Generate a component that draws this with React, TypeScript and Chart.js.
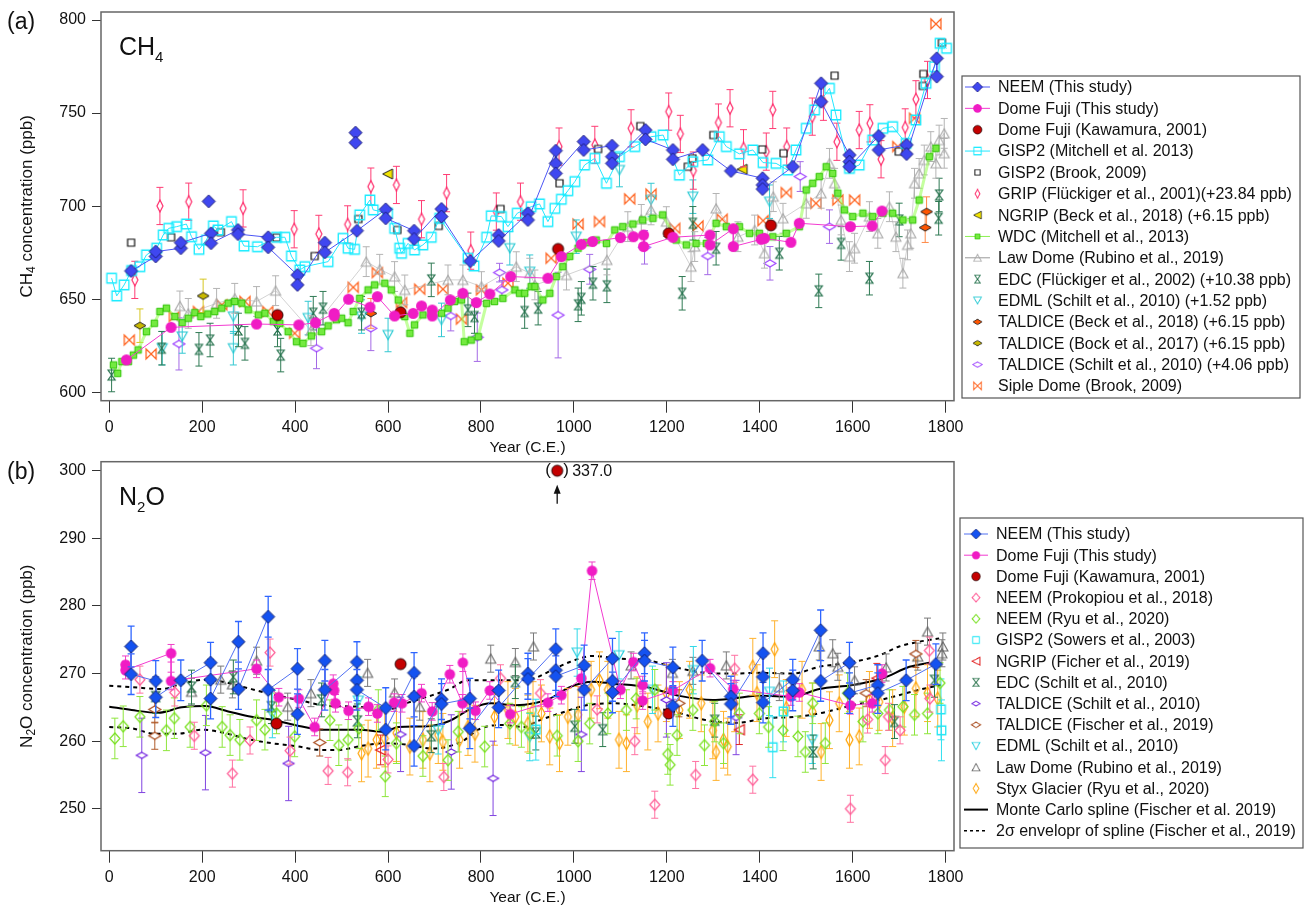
import React, { useEffect, useRef } from 'react';
import { Chart, registerables } from 'chart.js';

Chart.register(...registerables);

const FONT = "'Liberation Sans', Arial, Helvetica, sans-serif";

// ---------------- Axis ranges / ticks ----------------
const yearMin = -17.8;
const yearMax = 1818;
const yearTicks = [0, 200, 400, 600, 800, 1000, 1200, 1400, 1600, 1800];
const ch4Min = 595.5;
const ch4Max = 804.3;
const ch4Ticks = [600, 650, 700, 750, 800];
const n2oMin = 243.8;
const n2oMax = 301.33;
const n2oTicks = [250, 260, 270, 280, 290, 300];

// ---------------- Panel (a) CH4 data [year, ppb] or [year, ppb, err] ----------------
const neemCh4 = [[47,665.2],[100,673],[100,675.6],[154,677.4],[154,680.4],[219,685.4],[219,680.1],[277,687.2],[277,685],[342,683.3],[342,677.9],[405,663],[405,657.7],[464,680.4],[464,675.2],[533,686.8],[595,698.3],[595,693.5],[656,686.8],[656,682.4],[715,698.5],[715,694.4],[777,670.5],[838,684.5],[838,681.3],[901,696.2],[901,692.6],[961,729.8],[961,723],[961,717.6],[1021,734.7],[1021,730.2],[1082,732.5],[1082,726.6],[1082,723],[1154,740.9],[1154,735.9],[1213,730.2],[1213,725.2],[1277,730.2],[1338,718.9],[1406,715],[1406,711.4],[1406,709.2],[1471,721.2],[1532,766],[1532,756.1],[1593,727.5],[1593,723.9],[1593,721.2],[1656,737.7],[1656,730.2],[1716,732.9],[1716,728],[1781,779.4],[1781,769.6]];
const neemCh4Isolated = [[214,702.6],[530,739.5],[530,734.1]];
const domeFujiCh4 = [[37,617.4],[133,634.9],[317,636.7],[408,636.2],[444,637.4],[484,642.4],[484,641],[515,650],[561,645.7],[577,651.4],[614,641],[654,642.4],[672,646.4],[695,644.2],[695,641],[734,649.6],[761,653.2],[790,648.2],[819,652.8],[864,662.2],[944,661.3],[973,672.9],[1016,679.5],[1040,681],[1100,683.1],[1128,683.6],[1150,684.5],[1150,678.3],[1213,683.3],[1293,684.5],[1293,679.2],[1343,687.9],[1343,678.3],[1403,682.2],[1410,682.7],[1467,680.6],[1485,690.8],[1595,689],[1642,689.4],[1663,697.4]];
const kawamuraCh4 = [[362,641.5],[627,643],[966,677],[1204,685.4],[1424,689.7]];
const gisp2MitchellCh4 = [[5,661.3],[16,651.8],[32,657.7],[48,665.4],[66,667.5],[80,673.8],[102,677.4],[116,684.5],[128,688.1],[145,689],[166,690.4],[177,683.6],[193,676.8],[209,681.8],[224,689.4],[234,687.2],[263,691.7],[290,678.6],[319,678.2],[360,683.3],[378,683.3],[392,673.2],[410,665.7],[421,667.5],[471,670.2],[503,682.7],[514,677.4],[528,676.8],[539,695.3],[561,703.3],[568,698],[599,696.2],[614,688.1],[625,677.4],[629,674.7],[643,680],[657,676.5],[675,679.2],[693,683.3],[711,693.5],[772,672],[785,667.9],[812,683.3],[822,694.8],[844,694.4],[858,689],[878,696.2],[908,699.7],[926,701.2],[944,691.7],[959,698.8],[973,703.7],[987,708.3],[1002,713.2],[1023,722.1],[1045,725.7],[1070,712.3],[1098,726.6],[1131,732],[1166,737.3],[1192,738.2],[1227,716.7],[1256,723.9],[1288,724.8],[1313,737.3],[1328,732],[1356,728.1],[1385,730.2],[1407,723.4],[1435,723],[1460,719.4],[1478,730.2],[1500,741.8],[1518,751.7],[1550,763.3],[1564,749],[1593,720.3],[1614,722.1],[1643,735.5],[1665,741.8],[1686,742.7],[1715,733.7],[1736,746.3],[1758,766],[1776,774.9],[1788,787.5],[1802,784.8]];
const gisp2BrookCh4 = [[47,680.4],[133,683.3],[240,686],[360,683.1],[442,673.2],[536,693.1],[620,687.2],[709,689.4],[842,698.5],[969,712.3],[1052,730.7],[1143,743],[1245,721.2],[1255,725.7],[1300,738.2],[1405,730.5],[1451,728.4],[1561,770.1],[1699,729.3],[1751,764.6],[1752,771],[1792,787.8]];
const gripCh4 = [[55,660.4],[109,700.1],[171,702.4],[288,698.8],[398,687.6],[451,685.1],[513,690.2],[563,710.5],[618,711.4],[672,693],[726,707],[778,676.1],[833,697.1],[885,702.4],[968,732],[1045,732.9],[1123,741.8],[1204,750.8],[1229,738.8],[1257,719.1],[1311,744.9],[1336,752.6],[1365,731.1],[1414,729.3],[1428,751.7],[1458,732],[1513,748.1],[1537,756.1],[1566,734.6],[1614,740.9],[1637,744.5],[1661,725.2],[1713,742.3],[1736,757.4],[1761,767.8]];
const gripErr = 10;
const ngripCh4 = [[599,717.3],[1362,719.8]];
const wdcCh4 = [[9,614.7],[18,610.2],[27,616.5],[41,616.5],[52,620],[62,622.8],[80,632.6],[97,637.1],[109,643.4],[123,645.2],[141,640.7],[157,637.4],[170,639.8],[184,642.8],[197,640.7],[212,642.1],[227,643.4],[242,645.2],[256,647.9],[270,648.8],[285,647.9],[299,644.3],[321,641.6],[335,642.5],[353,638],[367,637.1],[385,632.6],[403,627.2],[417,626.3],[435,630.3],[457,632.6],[471,635.7],[489,639],[500,639.8],[514,637.4],[525,643.4],[539,650.5],[557,655],[571,657.7],[593,658.6],[607,655],[622,649.6],[636,640.7],[647,631.7],[657,636.2],[675,641.6],[693,642.5],[715,642.5],[729,645.2],[743,648.8],[758,649.6],[764,627.2],[779,628.1],[794,629.9],[812,647.8],[829,648.8],[847,650.5],[873,655],[883,653.2],[894,653.2],[908,656.8],[916,656.8],[933,649.6],[948,653.2],[962,662.2],[976,667.5],[991,673],[1009,677.4],[1027,680.4],[1048,681.8],[1070,680],[1088,687.2],[1105,689],[1127,690.4],[1148,692.6],[1170,693.5],[1191,695.3],[1220,681.8],[1242,679.2],[1263,680],[1285,680],[1306,690.8],[1328,689],[1356,689],[1378,685.4],[1399,685.4],[1428,683.6],[1457,685.4],[1485,689],[1500,708.7],[1514,712.3],[1528,715.9],[1543,721.2],[1557,717.6],[1568,707],[1582,698],[1600,694.4],[1622,696.2],[1643,694.4],[1665,696.2],[1686,696.2],[1708,692.6],[1729,692.6],[1743,703.3],[1765,726.6],[1779,731.1]];
const lawDomeCh4 = [[152,646.4],[170,642.4],[231,647.8],[270,650.5],[317,648.8],[358,654.6],[434,633.1],[553,670.2],[582,666.1],[614,662.2],[636,655],[729,660.4],[761,660.4],[801,656.8],[876,667.5],[905,664],[916,657.7],[984,663],[1071,671.1],[1116,689],[1145,692.9],[1166,698],[1199,691.7],[1252,667.5],[1260,678.3],[1306,698.8],[1353,683.6],[1389,687.2],[1410,674.7],[1429,705.1],[1450,693.5],[1500,701.5],[1532,706.9],[1550,723],[1561,712.3],[1575,692.6],[1593,672.9],[1604,677.4],[1636,694.4],[1654,685.4],[1679,699.7],[1693,683.6],[1708,664],[1718,679.2],[1725,685.4],[1733,712.3],[1743,717.6],[1754,724.8],[1768,732],[1779,723],[1786,735.5],[1797,739.1],[1797,728.4]];
const lawDomeCh4Err = 8;
const edcCh4 = [[5,609.3],[113,623.7],[193,623.1],[217,628.1],[278,633.5],[292,626.3],[362,633.5],[369,620],[439,642.5],[460,645.2],[543,642.5],[693,660.4],[772,644.3],[786,640.7],[894,643.4],[923,645.2],[1009,647],[1016,650.5],[1041,658.6],[1071,657.2],[1233,653.2],[1256,690.8],[1306,677.4],[1442,674.7],[1527,654.5],[1575,680],[1636,661.3],[1700,692.6],[1785,693.5],[1786,706]];
const edcCh4Err = 9;
const edmlCh4 = [[114,623.7],[157,630],[267,623.7],[267,640.7],[428,639.9],[543,640.7],[600,630.8],[715,638.9],[862,677.4],[905,664.8],[1005,683.6],[1098,719.4],[1166,703.3],[1256,705.1],[1421,702.4]];
const edmlCh4Err = 9;
const taldiceBeckCh4 = [[563,642.4],[1756,688.5],[1759,697]];
const taldiceBeckErr = 8;
const taldiceBockCh4 = [[66,635.8],[202,651.8]];
const taldiceBockErr = 9;
const taldiceSchiltCh4 = [[150,626,14],[446,623.7,11],[563,634.4,12],[735,641,8],[792,629.6,13],[840,664.3,5],[845,655,5],[966,641.5,23],[1034,666.1,8],[1152,677.9,9],[1288,673.2,10],[1422,669.3,9],[1487,715.9,8],[1550,689,9]];
const sipleCh4 = [[43,628.1],[90,620.6],[140,640.7],[192,643.4],[242,647],[292,648.8],[341,643.4],[399,631.7],[525,656.4],[577,664.3],[629,648.2],[668,655.4],[718,655.4],[758,639.3],[801,655],[858,658.6],[951,672],[1009,690.4],[1055,691.7],[1120,703.9],[1166,706.5],[1217,688.1],[1267,689.4],[1319,693],[1407,692.2],[1457,707.3],[1521,701.5],[1568,703.3],[1604,703.3],[1697,732],[1733,747.2],[1779,797.9]];

// ---------------- Panel (b) N2O data ----------------
const neemN2o = [[47,274],[47,269.9],[100,268.9],[100,266.5],[154,269],[218,271.6],[218,269.1],[218,266.3],[278,274.7],[278,267.7],[342,278.4],[342,267.6],[405,270.7],[405,264],[464,271.9],[464,267.6],[533,271.7],[533,269],[533,267.6],[595,264.9],[595,261.7],[656,270.1],[656,266.6],[656,259.3],[715,266.2],[715,265.5],[776,266.3],[776,261.9],[838,267.5],[838,265],[901,270],[901,269.2],[961,273.6],[961,270.5],[961,269.6],[1022,271.2],[1022,267.6],[1083,272.2],[1083,268.9],[1083,267.2],[1152,273],[1152,271.9],[1213,270.9],[1213,265.2],[1276,271.9],[1338,266.6],[1338,265.5],[1407,273],[1407,269.5],[1407,265.7],[1471,269.1],[1471,267.5],[1531,276.4],[1531,268.9],[1593,271.6],[1593,267.1],[1654,268.3],[1654,267.1],[1715,269],[1779,271.4]];
const neemN2oErr = 3;
const domeFujiN2o = [[35,271.3],[35,270.5],[133,273],[133,268.9],[317,270.7],[365,266.5],[408,266.3],[442,262.1],[482,268.5],[484,267.5],[487,265.6],[515,264.5],[558,265.1],[577,264.1],[613,265.7],[630,265.6],[672,267.1],[695,264.4],[733,269.9],[760,265.6],[761,271.6],[788,264.5],[819,267.5],[863,264],[944,265.7],[973,266.8],[1016,269.3],[1039,285.2],[1100,267.6],[1128,271.7],[1148,268.3],[1148,266],[1213,267.5],[1293,270.8],[1343,267.7],[1467,266.6],[1485,267.2],[1595,265.3],[1642,265.6],[1663,270]];
const domeFujiN2oErr = 1.3;
const kawamuraN2o = [[360,262.6],[627,271.4],[1204,264.1]];
const n2oOutlierYear = 964;
const n2oOutlierValue = 337.0;
const n2oOutlierShownAt = 300;
const prokopiouN2o = [[66,269.1],[141,267.2],[183,260.8],[265,255.2],[303,260.1],[346,273.1],[389,258.6],[471,255.6],[513,255.4],[600,257.3],[720,254.7],[842,269.3],[928,267.1],[1050,264.7],[1131,260],[1174,250.6],[1262,255],[1346,270.7],[1385,254.3],[1595,250],[1632,263.2],[1670,257.2],[1677,263.6],[1702,261.6],[1765,273.4],[1766,266.3]];
const prokopiouErr = 2;
const ryuN2o = [[12,260.4],[30,262.2],[66,263.6],[123,261.6],[140,263.4],[174,262.1],[209,265.3],[243,262.1],[260,260.9],[281,260.2],[317,263.1],[335,261.7],[360,264.1],[399,260.7],[475,263.1],[494,259.4],[514,260.2],[537,261.9],[579,264.6],[594,254.8],[618,259.7],[675,257.8],[729,257.2],[751,261.4],[808,259.2],[862,262.6],[887,262.1],[905,261.2],[964,260.8],[1009,260],[1034,262.6],[1073,264.1],[1113,264.6],[1134,266.3],[1174,267.6],[1202,258.1],[1207,256.5],[1222,260.9],[1256,264.6],[1281,259.4],[1303,262.9],[1322,259.7],[1356,264.1],[1399,264.1],[1419,262.1],[1450,261.6],[1482,260.7],[1498,258.4],[1514,265.6],[1541,259.7],[1589,267.1],[1622,262.9],[1654,264.1],[1679,264.6],[1708,265.1],[1733,263.9],[1761,264.1],[1788,268.6]];
const ryuErr = 3;
const sowersN2o = [[918,261.7],[1428,259.1],[1451,264.4],[1790,264.7],[1791,261.6]];
const sowersErr = 4.5;
const ficherN2o = [[584,258.7],[1356,261.7],[1652,269.3]];
const ficherErr = 2.2;
const edcN2o = [[100,266.6],[177,268],[267,269.5],[349,265.1],[457,266.1],[534,263],[693,260.8],[874,268.8],[918,261.2],[1002,262.2],[1062,261.7],[1303,263.1],[1515,258.4],[1690,262.9],[1776,269]];
const edcN2oErr = 2.5;
const taldiceSchiltN2o = [[70,257.9],[207,258.3],[386,256.7],[627,261],[736,258.4],[826,254.5],[1016,261],[1199,266.1],[1349,263.5]];
const taldiceSchiltN2oErr = 5.5;
const taldiceFischerN2o = [[98,264.7],[98,260.8],[453,259.8],[1226,265.6],[1629,267.1],[1736,272.9]];
const taldiceFischerErr = 2;
const edmlN2o = [[351,264],[536,266],[708,261.6],[905,260.6],[1007,273.1],[1097,272.7],[1169,267.6],[1257,270.5],[1421,267.3],[1513,260.2]];
const edmlN2oErr = 3.5;
const lawDomeN2o = [[177,267.3],[240,269.1],[265,268.4],[317,271.9],[384,265.1],[434,267.1],[556,270.1],[614,267.2],[668,265.1],[821,272.2],[874,271.7],[913,274],[1123,271.2],[1212,270.1],[1256,270.4],[1328,271.2],[1442,268],[1528,274],[1557,273],[1568,271],[1604,269],[1672,270.9],[1740,272.5],[1761,276.2],[1792,273],[1794,274]];
const lawDomeN2oErr = 2;
const styxN2o = [[543,258.2],[557,258.9],[575,260.2],[593,260.4],[618,261.2],[647,259.2],[675,260.2],[690,258.2],[708,260.9],[718,259.9],[754,260.2],[772,262.1],[787,261.1],[829,263.6],[858,264.6],[874,263.6],[901,262.6],[912,264.6],[930,264.1],[948,260.7],[969,259.7],[987,263.6],[1009,263.9],[1037,267.6],[1055,269],[1073,267.6],[1097,260.2],[1113,259.7],[1136,265.3],[1159,262.9],[1181,264.1],[1199,267.1],[1227,264.6],[1249,267.6],[1274,265.6],[1299,261.6],[1306,258.4],[1322,260.2],[1331,259.2],[1346,265.6],[1385,271],[1394,267.1],[1432,273.6],[1457,264.9],[1491,267.6],[1513,264.4],[1532,258.4],[1550,263.1],[1571,265.6],[1593,260.2],[1614,260.7],[1636,266.1],[1657,265.8],[1686,263.4],[1711,265.1],[1736,267.8],[1761,267.1],[1783,266.3]];
const styxErr = 4.2;
const splineN2o = [[0,265.1],[48,264.6],[105,264.2],[156,265],[206,265.2],[256,264.4],[306,263.6],[349,263.2],[399,262.4],[457,261.7],[536,261.7],[591,261.4],[622,262.1],[686,262.2],[729,262.9],[779,264.8],[822,265.6],[873,265.3],[915,265.6],[948,266.3],[991,268],[1041,268.8],[1084,268.5],[1156,268],[1227,266.7],[1299,266.1],[1342,266.3],[1399,266.7],[1471,266.6],[1528,267.7],[1600,268.3],[1665,269.3],[1722,271],[1765,271.6]];
const splineUpperN2o = [[0,268.2],[48,268],[113,267.7],[156,268.5],[206,269.1],[256,268.6],[306,267.7],[364,266.7],[414,266],[471,265.2],[536,265.1],[586,264.4],[643,265.7],[686,266.6],[729,267.6],[772,269],[829,269],[873,269],[915,269.3],[941,270.1],[991,271.7],[1041,272.6],[1098,272.2],[1156,272],[1213,271],[1285,270.1],[1342,270],[1399,270.1],[1471,270],[1528,271],[1600,271.7],[1657,272.7],[1700,274],[1743,274.7],[1786,275.2]];
const splineLowerN2o = [[0,262.1],[48,261.9],[98,261.1],[148,261.1],[199,261.7],[249,261.2],[299,260.3],[349,259.7],[399,259.3],[457,258.7],[493,258.7],[543,259.3],[593,259.7],[650,259.4],[693,258.9],[729,259.2],[765,260.2],[794,261.7],[844,262.4],[894,262.1],[919,262.9],[969,264.1],[1027,265.3],[1084,265.6],[1156,265.1],[1213,264.4],[1285,263.1],[1349,262.7],[1414,263.4],[1478,263.6],[1528,264.1],[1600,265.3],[1672,266.3],[1743,267.6],[1790,268.3]];

// ---------------- markers ----------------
function makeMarker(kind: string, w: number, h: number, stroke: string | null, fill: string | null, lw = 1.2): HTMLCanvasElement {
  const pad = Math.ceil(lw) + 1;
  const c = document.createElement('canvas');
  c.width = Math.ceil(w) + pad * 2;
  c.height = Math.ceil(h) + pad * 2;
  const g = c.getContext('2d') as CanvasRenderingContext2D;
  const cx = c.width / 2, cy = c.height / 2, a = w / 2, b = h / 2;
  g.beginPath();
  switch (kind) {
    case 'diamond':
      g.moveTo(cx, cy - b); g.lineTo(cx + a, cy); g.lineTo(cx, cy + b); g.lineTo(cx - a, cy); g.closePath(); break;
    case 'hourglass':
      g.moveTo(cx - a, cy - b); g.lineTo(cx + a, cy - b); g.lineTo(cx - a, cy + b); g.lineTo(cx + a, cy + b); g.closePath(); break;
    case 'bowtie':
      g.moveTo(cx - a, cy - b); g.lineTo(cx + a, cy + b); g.lineTo(cx + a, cy - b); g.lineTo(cx - a, cy + b); g.closePath(); break;
    case 'triL':
      g.moveTo(cx - a, cy); g.lineTo(cx + a, cy - b); g.lineTo(cx + a, cy + b); g.closePath(); break;
    case 'triD':
      g.moveTo(cx - a, cy - b); g.lineTo(cx + a, cy - b); g.lineTo(cx, cy + b); g.closePath(); break;
    case 'triU':
      g.moveTo(cx - a, cy + b); g.lineTo(cx + a, cy + b); g.lineTo(cx, cy - b); g.closePath(); break;
    case 'square':
      g.rect(cx - a, cy - b, w, h); break;
    default:
      g.arc(cx, cy, a, 0, Math.PI * 2); break;
  }
  if (fill) { g.fillStyle = fill; g.fill(); }
  if (stroke) { g.lineWidth = lw; g.strokeStyle = stroke; g.lineJoin = 'miter'; g.stroke(); }
  return c;
}

interface Spec {
  label?: string;
  data: number[][];
  marker?: HTMLCanvasElement;
  line?: { color: string; width: number; dash?: number[] };
  legendLine?: { color: string; width: number; dash?: number[] };
  err?: number;
  errColor?: string;
  errWidth?: number;
  smooth?: boolean;
  legendScale?: number;
}

function toDataset(s: Spec): any {
  return {
    label: s.label ?? '',
    data: s.data.map((d) => ({ x: d[0], y: d[1] })),
    errs: s.data.map((d) => (d.length > 2 ? d[2] : s.err ?? 0)),
    errColor: s.errColor ?? '#888',
    errWidth: s.errWidth ?? 1,
    showLine: !!s.line,
    borderColor: s.line ? s.line.color : 'rgba(0,0,0,0)',
    backgroundColor: 'rgba(0,0,0,0)',
    borderWidth: s.line ? s.line.width : 0,
    borderDash: s.line?.dash ?? [],
    tension: s.smooth ? 0.4 : 0,
    cubicInterpolationMode: s.smooth ? 'monotone' : 'default',
    pointStyle: s.marker ?? 'circle',
    pointRadius: s.marker ? 5 : 0,
    pointHoverRadius: s.marker ? 5 : 0,
    pointBorderWidth: 0,
    fill: false,
  };
}

const errorBarPlugin = {
  id: 'errorBars',
  beforeDatasetDraw(chart: any, args: any) {
    const ds = chart.data.datasets[args.index];
    if (!ds || !ds.errs) return;
    const ys = chart.scales.y;
    const ctx = chart.ctx;
    const area = chart.chartArea;
    ctx.save();
    ctx.beginPath();
    ctx.rect(area.left, area.top, area.right - area.left, area.bottom - area.top);
    ctx.clip();
    ctx.strokeStyle = ds.errColor;
    ctx.lineWidth = ds.errWidth;
    const cap = 3.5;
    args.meta.data.forEach((pt: any, i: number) => {
      const e = ds.errs[i];
      if (!e) return;
      const v = ds.data[i].y;
      const yT = ys.getPixelForValue(v + e);
      const yB = ys.getPixelForValue(v - e);
      const x = pt.x;
      ctx.beginPath();
      ctx.moveTo(x, yT); ctx.lineTo(x, yB);
      ctx.moveTo(x - cap, yT); ctx.lineTo(x + cap, yT);
      ctx.moveTo(x - cap, yB); ctx.lineTo(x + cap, yB);
      ctx.stroke();
    });
    ctx.restore();
  },
};

interface LegendCfg {
  box: [number, number, number, number];
  y0: number; dy: number; lx0: number; lx1: number; mx: number; tx: number;
}

function makeLegendPlugin(specs: Spec[], cfg: LegendCfg) {
  const items = specs.filter((s) => s.label);
  return {
    id: 'boxLegend',
    afterDraw(chart: any) {
      const ctx = chart.ctx;
      ctx.save();
      ctx.strokeStyle = '#555';
      ctx.lineWidth = 1.2;
      ctx.strokeRect(cfg.box[0], cfg.box[1], cfg.box[2], cfg.box[3]);
      ctx.font = `16px ${FONT}`;
      ctx.textBaseline = 'middle';
      ctx.textAlign = 'left';
      items.forEach((it, i) => {
        const y = cfg.y0 + i * cfg.dy;
        const ln = it.legendLine ?? it.line;
        if (ln) {
          ctx.save();
          ctx.strokeStyle = ln.color;
          ctx.lineWidth = ln.width;
          ctx.setLineDash(ln.dash ?? []);
          ctx.beginPath();
          ctx.moveTo(cfg.lx0, y);
          ctx.lineTo(cfg.lx1, y);
          ctx.stroke();
          ctx.restore();
        }
        if (it.marker) {
          const sc = it.legendScale ?? 0.78;
          const w = it.marker.width * sc, h = it.marker.height * sc;
          ctx.drawImage(it.marker, cfg.mx - w / 2, y - h / 2, w, h);
        }
        ctx.fillStyle = '#111';
        ctx.fillText(it.label as string, cfg.tx, y + 1);
      });
      ctx.restore();
    },
  };
}

interface DecorCfg {
  panel: string;
  main: [string, string, string];
  yTitle: [string, string, string];
  outlier?: boolean;
}

function makeDecorPlugin(cfg: DecorCfg) {
  return {
    id: 'decor',
    afterDatasetsDraw(chart: any) {
      const { ctx, chartArea: a } = chart;
      ctx.save();
      ctx.strokeStyle = '#666';
      ctx.lineWidth = 1.5;
      ctx.strokeRect(a.left, a.top, a.right - a.left, a.bottom - a.top);
      ctx.restore();
    },
    afterDraw(chart: any) {
      const { ctx, chartArea: a } = chart;
      ctx.save();
      ctx.fillStyle = '#111';
      // panel label
      ctx.font = `23px ${FONT}`;
      ctx.textBaseline = 'middle';
      ctx.textAlign = 'left';
      ctx.fillText(cfg.panel, 7, a.top + 11);
      // in-plot species label
      ctx.textBaseline = 'alphabetic';
      let x = a.left + 18;
      const base = a.top + 43;
      ctx.font = `25px ${FONT}`;
      ctx.fillText(cfg.main[0], x, base);
      x += ctx.measureText(cfg.main[0]).width;
      ctx.font = `15px ${FONT}`;
      ctx.fillText(cfg.main[1], x, base + 7);
      x += ctx.measureText(cfg.main[1]).width;
      ctx.font = `25px ${FONT}`;
      ctx.fillText(cfg.main[2], x, base);
      // y title
      ctx.save();
      ctx.translate(27, (a.top + a.bottom) / 2);
      ctx.rotate(-Math.PI / 2);
      ctx.textBaseline = 'middle';
      ctx.font = `17px ${FONT}`;
      const w0 = ctx.measureText(cfg.yTitle[0]).width;
      const w2 = ctx.measureText(cfg.yTitle[2]).width;
      ctx.font = `12px ${FONT}`;
      const w1 = ctx.measureText(cfg.yTitle[1]).width;
      let tx = -(w0 + w1 + w2) / 2;
      ctx.font = `17px ${FONT}`;
      ctx.fillText(cfg.yTitle[0], tx, 0);
      tx += w0;
      ctx.font = `12px ${FONT}`;
      ctx.fillText(cfg.yTitle[1], tx, 5);
      tx += w1;
      ctx.font = `17px ${FONT}`;
      ctx.fillText(cfg.yTitle[2], tx, 0);
      ctx.restore();
      // x title
      ctx.font = `15.5px ${FONT}`;
      ctx.textAlign = 'center';
      ctx.textBaseline = 'middle';
      ctx.fillText('Year (C.E.)', (a.left + a.right) / 2, a.bottom + 47.5);
      // off-scale point annotation
      if (cfg.outlier) {
        const px = chart.scales.x.getPixelForValue(n2oOutlierYear);
        const py = chart.scales.y.getPixelForValue(n2oOutlierShownAt);
        ctx.font = `17px ${FONT}`;
        ctx.textAlign = 'center';
        ctx.fillText('(', px - 9, py);
        ctx.fillText(')', px + 9, py);
        ctx.font = `16px ${FONT}`;
        ctx.textAlign = 'left';
        ctx.fillText(n2oOutlierValue.toFixed(1), px + 15, py + 1);
        ctx.strokeStyle = '#111';
        ctx.lineWidth = 1.3;
        ctx.beginPath();
        ctx.moveTo(px, py + 33);
        ctx.lineTo(px, py + 17);
        ctx.stroke();
        ctx.beginPath();
        ctx.moveTo(px - 3.5, py + 23);
        ctx.lineTo(px, py + 14);
        ctx.lineTo(px + 3.5, py + 23);
        ctx.closePath();
        ctx.fill();
      }
      ctx.restore();
    },
  };
}

function buildOptions(yMin: number, yMax: number, yTicks: number[], top: number, xHeight: number): any {
  const tickFont = { family: FONT, size: 16 };
  return {
    animation: false,
    responsive: false,
    maintainAspectRatio: false,
    devicePixelRatio: 1,
    events: [],
    layout: { padding: { left: 0, right: 350, top, bottom: 0 } },
    plugins: { legend: { display: false }, tooltip: { enabled: false } },
    scales: {
      x: {
        type: 'linear',
        min: yearMin,
        max: yearMax,
        afterBuildTicks: (s: any) => { s.ticks = yearTicks.map((v) => ({ value: v })); },
        afterFit: (s: any) => { s.height = xHeight; s.paddingLeft = 0; s.paddingRight = 0; s.paddingTop = 0; s.paddingBottom = 0; },
        ticks: { font: tickFont, color: '#111', padding: 5, maxRotation: 0, minRotation: 0, autoSkip: false, callback: (v: any) => String(v) },
        grid: { display: true, drawOnChartArea: false, drawTicks: true, tickLength: 12, tickColor: '#333', tickWidth: 1 },
        border: { display: false },
      },
      y: {
        type: 'linear',
        min: yMin,
        max: yMax,
        afterBuildTicks: (s: any) => { s.ticks = yTicks.map((v) => ({ value: v })); },
        afterFit: (s: any) => { s.width = 101; s.paddingTop = 0; s.paddingBottom = 0; s.paddingLeft = 0; s.paddingRight = 0; },
        ticks: { font: tickFont, color: '#111', padding: 6, autoSkip: false, callback: (v: any) => String(v) },
        grid: { display: true, drawOnChartArea: false, drawTicks: true, tickLength: 9, tickColor: '#333', tickWidth: 1 },
        border: { display: false },
      },
    },
  };
}

function buildCh4(): any {
  const neemM = makeMarker('diamond', 13, 13, '#1c1c7a', '#3f47f0', 1);
  const dfM = makeMarker('circle', 11, 11, null, '#f01cc4');
  const kawM = makeMarker('circle', 11, 11, '#2a0000', '#c40000', 1);
  const specs: Spec[] = [
    { label: 'NEEM (This study)', data: neemCh4, marker: neemM, line: { color: '#4b55f5', width: 1 } },
    { label: 'Dome Fuji (This study)', data: domeFujiCh4, marker: dfM, line: { color: '#f23ad0', width: 1 } },
    { label: 'Dome Fuji (Kawamura, 2001)', data: kawamuraCh4, marker: kawM },
    { label: 'GISP2 (Mitchell et al. 2013)', data: gisp2MitchellCh4, marker: makeMarker('square', 9.5, 9.5, '#18ecff', null, 1.3), line: { color: '#22e6ff', width: 1 } },
    { label: 'GISP2 (Brook, 2009)', data: gisp2BrookCh4, marker: makeMarker('square', 7, 7, '#111', '#fff', 1.2) },
    { label: 'GRIP (Flückiger et al., 2001)(+23.84 ppb)', data: gripCh4, marker: makeMarker('diamond', 6, 12, '#ff2a6a', '#fff', 1.2), err: gripErr, errColor: '#ff3c74' },
    { label: 'NGRIP (Beck et al., 2018) (+6.15 ppb)', data: ngripCh4, marker: makeMarker('triL', 10, 10, '#222', '#f2e400', 1) },
    { label: 'WDC (Mitchell et al., 2013)', data: wdcCh4, marker: makeMarker('square', 6.5, 6.5, '#2cc400', '#74ea40', 1), line: { color: 'rgba(150,255,80,0.55)', width: 3 }, legendLine: { color: '#8cf050', width: 1 } },
    { label: 'Law Dome (Rubino et al., 2019)', data: lawDomeCh4, marker: makeMarker('triU', 10, 9, '#a8a8a8', null, 1.1), line: { color: 'rgba(180,180,180,0.6)', width: 1 }, legendLine: { color: '#999', width: 1 }, err: lawDomeCh4Err, errColor: '#b4b4b4' },
    { label: 'EDC (Flückiger et al., 2002) (+10.38 ppb)', data: edcCh4, marker: makeMarker('hourglass', 7, 10, '#1f6e48', null, 1.2), err: edcCh4Err, errColor: '#2f7a54' },
    { label: 'EDML (Schilt et al., 2010) (+1.52 ppb)', data: edmlCh4, marker: makeMarker('triD', 10, 9, '#22c8d2', null, 1.1), err: edmlCh4Err, errColor: '#34c8d2' },
    { label: 'TALDICE (Beck et al., 2018) (+6.15 ppb)', data: taldiceBeckCh4, marker: makeMarker('diamond', 12, 7, '#222', '#ff5500', 1), err: taldiceBeckErr, errColor: '#ff8a48' },
    { label: 'TALDICE (Bock et al., 2017) (+6.15 ppb)', data: taldiceBockCh4, marker: makeMarker('diamond', 12, 7, '#222', '#c8b800', 1), err: taldiceBockErr, errColor: '#d6c620' },
    { label: 'TALDICE (Schilt et al., 2010) (+4.06 ppb)', data: taldiceSchiltCh4, marker: makeMarker('diamond', 12, 7, '#9a3cff', '#fff', 1.1), errColor: '#a46ae6' },
    { label: 'Siple Dome (Brook, 2009)', data: sipleCh4, marker: makeMarker('bowtie', 10, 10, '#ff6420', null, 1.3) },
    { data: neemCh4Isolated, marker: neemM },
  ];
  return {
    type: 'line',
    data: { datasets: specs.map(toDataset) },
    options: buildOptions(ch4Min, ch4Max, ch4Ticks, 12, 59.3),
    plugins: [
      errorBarPlugin,
      makeDecorPlugin({ panel: '(a)', main: ['CH', '4', ''], yTitle: ['CH', '4', ' concentration (ppb)'] }),
      makeLegendPlugin(specs, { box: [962, 76, 338, 322], y0: 87, dy: 21.35, lx0: 965, lx1: 990, mx: 977.5, tx: 998 }),
    ],
  };
}

function buildN2o(): any {
  const neemM = makeMarker('diamond', 13, 13, '#102070', '#1452f0', 1);
  const dfM = makeMarker('circle', 10.5, 10.5, null, '#f01cc4');
  const kawM = makeMarker('circle', 11, 11, '#2a0000', '#c40000', 1);
  const specs: Spec[] = [
    { label: 'NEEM (This study)', data: neemN2o, marker: neemM, line: { color: '#5070f2', width: 1 }, err: neemN2oErr, errColor: '#2f66ff', errWidth: 1.3 },
    { label: 'Dome Fuji (This study)', data: domeFujiN2o, marker: dfM, line: { color: '#f23ad0', width: 1 }, err: domeFujiN2oErr, errColor: '#f040c8' },
    { label: 'Dome Fuji (Kawamura, 2001)', data: kawamuraN2o, marker: kawM },
    { label: 'NEEM (Prokopiou et al., 2018)', data: prokopiouN2o, marker: makeMarker('diamond', 10, 11, '#ff5c96', null, 1.2), err: prokopiouErr, errColor: '#ff72a2' },
    { label: 'NEEM (Ryu et al., 2020)', data: ryuN2o, marker: makeMarker('diamond', 10, 11, '#78e020', null, 1.2), err: ryuErr, errColor: '#8ee63c' },
    { label: 'GISP2 (Sowers et al., 2003)', data: sowersN2o, marker: makeMarker('square', 8.5, 8.5, '#22e6f4', null, 1.3), err: sowersErr, errColor: '#30e0f0' },
    { label: 'NGRIP (Ficher et al., 2019)', data: ficherN2o, marker: makeMarker('triL', 10, 10, '#e01818', null, 1.2), err: ficherErr, errColor: '#e02828' },
    { label: 'EDC (Schilt et al., 2010)', data: edcN2o, marker: makeMarker('hourglass', 8, 10, '#1c6a40', null, 1.2), err: edcN2oErr, errColor: '#2a7a4c' },
    { label: 'TALDICE (Schilt et al., 2010)', data: taldiceSchiltN2o, marker: makeMarker('diamond', 11, 6, '#7020e0', '#fff', 1.1), err: taldiceSchiltN2oErr, errColor: '#8044e0' },
    { label: 'TALDICE (Fischer et al., 2019)', data: taldiceFischerN2o, marker: makeMarker('diamond', 12, 7, '#a84a1c', '#fff', 1.2), err: taldiceFischerErr, errColor: '#b05a2a' },
    { label: 'EDML (Schilt et al., 2010)', data: edmlN2o, marker: makeMarker('triD', 10, 9, '#28d0e0', null, 1.2), err: edmlN2oErr, errColor: '#30d8e8' },
    { label: 'Law Dome (Rubino et al., 2019)', data: lawDomeN2o, marker: makeMarker('triU', 10, 9, '#666', null, 1.1), err: lawDomeN2oErr, errColor: '#7a7a7a' },
    { label: 'Styx Glacier (Ryu et al., 2020)', data: styxN2o, marker: makeMarker('diamond', 7, 13, '#ffa200', null, 1.2), err: styxErr, errColor: '#ffb22e' },
    { label: 'Monte Carlo spline (Fischer et al. 2019)', data: splineN2o, line: { color: '#000', width: 2 }, smooth: true },
    { label: '2\u03C3 envelopr of spline (Fischer et al., 2019)', data: splineUpperN2o, line: { color: '#000', width: 2, dash: [4, 4] }, legendLine: { color: '#000', width: 1.6, dash: [3, 3] }, smooth: true },
    { data: splineLowerN2o, line: { color: '#000', width: 2, dash: [4, 4] }, smooth: true },
    { data: [[n2oOutlierYear, n2oOutlierShownAt]], marker: kawM },
  ];
  return {
    type: 'line',
    data: { datasets: specs.map(toDataset) },
    options: buildOptions(n2oMin, n2oMax, n2oTicks, 8.7, 55.3),
    plugins: [
      errorBarPlugin,
      makeDecorPlugin({ panel: '(b)', main: ['N', '2', 'O'], yTitle: ['N', '2', 'O concentration (ppb)'], outlier: true }),
      makeLegendPlugin(specs, { box: [960, 65, 343, 330], y0: 81, dy: 21.2, lx0: 964, lx1: 988, mx: 976, tx: 996 }),
    ],
  };
}

export default function App() {
  const ref1 = useRef<HTMLCanvasElement>(null);
  const ref2 = useRef<HTMLCanvasElement>(null);
  useEffect(() => {
    document.body.style.margin = '0';
    const c1 = new Chart(ref1.current as HTMLCanvasElement, buildCh4());
    const c2 = new Chart(ref2.current as HTMLCanvasElement, buildN2o());
    return () => {
      c1.destroy();
      c2.destroy();
    };
  }, []);
  return (
    <div style={{ position: 'relative', width: 1304, height: 906, background: '#fff', overflow: 'hidden' }}>
      <canvas ref={ref1} width={1304} height={460} style={{ position: 'absolute', left: 0, top: 0, width: 1304, height: 460 }} />
      <canvas ref={ref2} width={1304} height={453} style={{ position: 'absolute', left: 0, top: 453, width: 1304, height: 453 }} />
    </div>
  );
}
